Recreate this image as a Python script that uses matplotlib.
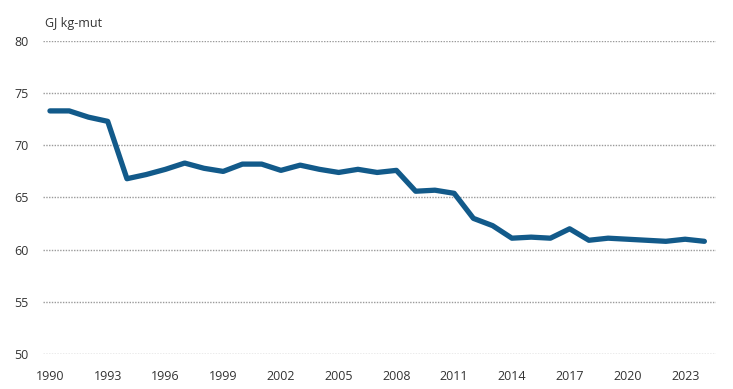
import matplotlib
matplotlib.use("Agg")
import matplotlib.pyplot as plt

years = list(range(1990, 2025))
values = [73.3, 73.3, 72.7, 72.3, 66.8, 67.2, 67.7, 68.3, 67.8, 67.5,
          68.2, 68.2, 67.6, 68.1, 67.7, 67.4, 67.7, 67.4, 67.6, 65.6,
          65.7, 65.4, 63.0, 62.3, 61.1, 61.2, 61.1, 62.0, 60.9, 61.1,
          61.0, 60.9, 60.8, 61.0, 60.8]
xticks = list(range(1990, 2024, 3))
yticks = [50, 55, 60, 65, 70, 75, 80]
unit_label = "GJ kg-mut"

plt.rcParams['font.family'] = ['Open Sans', 'DejaVu Sans']
fig = plt.figure(figsize=(7.33, 3.89), dpi=100)
ax = fig.add_axes([0.0587, 0.09, 0.918, 0.8046])
for y in yticks:
    ax.axhline(y, color='#9a9a9a', lw=1.0, ls=(0, (1, 1)), zorder=1)
ax.plot(years, values, color='#125a8a', lw=3.8, solid_joinstyle='round',
        solid_capstyle='round', zorder=3)
ax.set_xlim(1989.64, 2024.6)
ax.set_ylim(50, 80)
ax.set_yticks(yticks)
ax.set_xticks(xticks)
ax.tick_params(length=0, labelsize=9, colors='#333333')
ax.tick_params(axis='y', pad=10.5)
ax.tick_params(axis='x', pad=11.5)
for s in ax.spines.values():
    s.set_visible(False)
fig.text(0.0614, 0.94, unit_label, fontsize=9, color='#333333', va='center')
fig.savefig("out.png", dpi=100)
